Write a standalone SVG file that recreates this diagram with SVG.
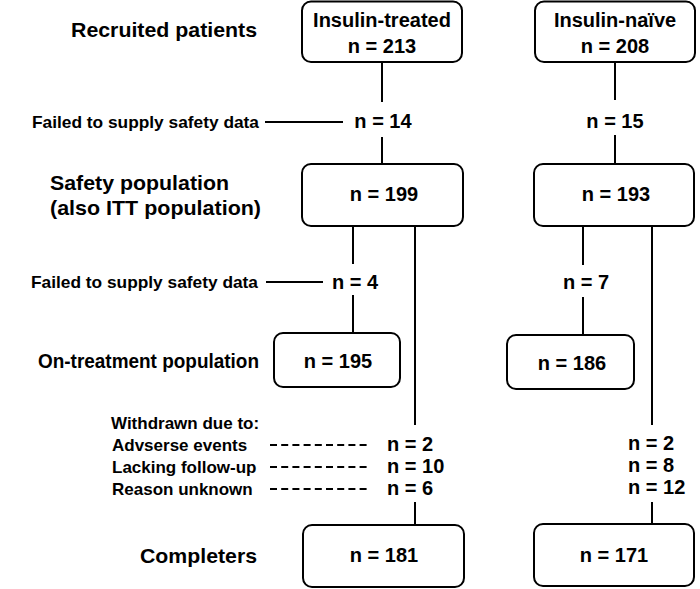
<svg xmlns="http://www.w3.org/2000/svg" width="700" height="589" viewBox="0 0 700 589">
<style>
text{font-family:"Liberation Sans",Arial,sans-serif;font-weight:bold;fill:#000}
.lbl{font-size:21px}
.sm{font-size:17px}
.n{font-size:20px;text-anchor:middle}
.nl{font-size:20px}
.box{fill:#fff;stroke:#000;stroke-width:2}
.ln{stroke:#000;stroke-width:2;fill:none}
.dash{stroke:#000;stroke-width:2;stroke-dasharray:7 4.2;fill:none}
</style>
<rect width="700" height="589" fill="#fff"/>
<g id="labels">
<text class="lbl" x="71" y="37" textLength="186" lengthAdjust="spacingAndGlyphs">Recruited patients</text>
<text class="sm" x="32" y="128" textLength="227" lengthAdjust="spacingAndGlyphs">Failed to supply safety data</text>
<text class="lbl" x="50" y="190" textLength="179" lengthAdjust="spacingAndGlyphs">Safety population</text>
<text class="lbl" x="50" y="215" textLength="211" lengthAdjust="spacingAndGlyphs">(also ITT population)</text>
<text class="sm" x="31" y="288" textLength="227" lengthAdjust="spacingAndGlyphs">Failed to supply safety data</text>
<text class="lbl" x="38" y="368" textLength="221" lengthAdjust="spacingAndGlyphs">On-treatment population</text>
<text class="sm" x="111" y="429">Withdrawn due to:</text>
<text class="sm" x="112" y="451">Advserse events</text>
<text class="sm" x="112" y="473">Lacking follow-up</text>
<text class="sm" x="112" y="495">Reason unknown</text>
<text class="lbl" x="140" y="563" textLength="117" lengthAdjust="spacingAndGlyphs">Completers</text>
</g>
<g id="connectors">
<line class="ln" x1="382" y1="62" x2="382" y2="102"/>
<line class="ln" x1="382" y1="137" x2="382" y2="164"/>
<line class="ln" x1="265" y1="122" x2="343" y2="122"/>
<line class="ln" x1="615" y1="62" x2="615" y2="100"/>
<line class="ln" x1="615" y1="135" x2="615" y2="164"/>
<line class="ln" x1="353" y1="226" x2="353" y2="264"/>
<line class="ln" x1="353" y1="295" x2="353" y2="333"/>
<line class="ln" x1="266" y1="282" x2="323" y2="282"/>
<line class="ln" x1="583" y1="226" x2="583" y2="265"/>
<line class="ln" x1="583" y1="297" x2="583" y2="335"/>
<line class="ln" x1="415" y1="226" x2="415" y2="425"/>
<line class="ln" x1="652" y1="226" x2="652" y2="425"/>
<line class="ln" x1="415" y1="502" x2="415" y2="525"/>
<line class="ln" x1="652" y1="502" x2="652" y2="524"/>
<line class="dash" x1="270" y1="445" x2="370" y2="445"/>
<line class="dash" x1="270" y1="467" x2="370" y2="467"/>
<line class="dash" x1="270" y1="489" x2="370" y2="489"/>
</g>
<g id="counts">
<text class="n" x="383" y="128">n = 14</text>
<text class="n" x="615" y="128">n = 15</text>
<text class="n" x="355" y="289">n = 4</text>
<text class="n" x="586" y="289">n = 7</text>
<text class="nl" x="387" y="451">n = 2</text>
<text class="nl" x="387" y="473">n = 10</text>
<text class="nl" x="387" y="495">n = 6</text>
<text class="nl" x="628" y="450">n = 2</text>
<text class="nl" x="628" y="472">n = 8</text>
<text class="nl" x="628" y="494">n = 12</text>
</g>
<g id="insulin-treated">
<rect class="box" x="302" y="1.5" width="160" height="60.5" rx="9"/>
<text class="n" x="382" y="27">Insulin-treated</text>
<text class="n" x="382" y="53">n = 213</text>
</g>
<g id="insulin-naive">
<rect class="box" x="535" y="1.5" width="160" height="60.5" rx="9"/>
<text class="n" x="615" y="27">Insulin-naïve</text>
<text class="n" x="615" y="53">n = 208</text>
</g>
<g id="safety-treated">
<rect class="box" x="302" y="164" width="161" height="62" rx="9"/>
<text class="n" x="384" y="201">n = 199</text>
</g>
<g id="safety-naive">
<rect class="box" x="534" y="164" width="160" height="62" rx="9"/>
<text class="n" x="616" y="201">n = 193</text>
</g>
<g id="ontreat-treated">
<rect class="box" x="274" y="333" width="126" height="54" rx="9"/>
<text class="n" x="338" y="368">n = 195</text>
</g>
<g id="ontreat-naive">
<rect class="box" x="507" y="335" width="127" height="54" rx="9"/>
<text class="n" x="572" y="370">n = 186</text>
</g>
<g id="completers-treated">
<rect class="box" x="303" y="525" width="161" height="62" rx="9"/>
<text class="n" x="384" y="562">n = 181</text>
</g>
<g id="completers-naive">
<rect class="box" x="534" y="524" width="160" height="62" rx="9"/>
<text class="n" x="614" y="562">n = 171</text>
</g>
</svg>
